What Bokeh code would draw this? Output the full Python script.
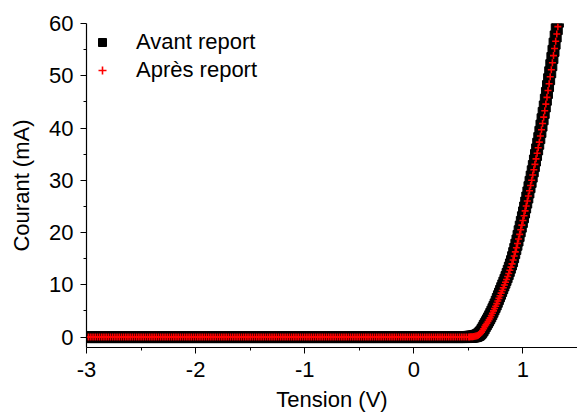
from bokeh.plotting import figure
from bokeh.models import (ColumnDataSource, Legend, LegendItem, Range1d,
                          FixedTicker, CustomJSTickFormatter)
from bokeh.embed import file_html
from bokeh.resources import INLINE

# Tension sweep (V): flat part then rising part
tension_plat = [
    -3.00, -2.98, -2.96, -2.94, -2.92, -2.90, -2.88, -2.86, -2.84, -2.82,
    -2.80, -2.78, -2.76, -2.74, -2.72, -2.70, -2.68, -2.66, -2.64, -2.62,
    -2.60, -2.58, -2.56, -2.54, -2.52, -2.50, -2.48, -2.46, -2.44, -2.42,
    -2.40, -2.38, -2.36, -2.34, -2.32, -2.30, -2.28, -2.26, -2.24, -2.22,
    -2.20, -2.18, -2.16, -2.14, -2.12, -2.10, -2.08, -2.06, -2.04, -2.02,
    -2.00, -1.98, -1.96, -1.94, -1.92, -1.90, -1.88, -1.86, -1.84, -1.82,
    -1.80, -1.78, -1.76, -1.74, -1.72, -1.70, -1.68, -1.66, -1.64, -1.62,
    -1.60, -1.58, -1.56, -1.54, -1.52, -1.50, -1.48, -1.46, -1.44, -1.42,
    -1.40, -1.38, -1.36, -1.34, -1.32, -1.30, -1.28, -1.26, -1.24, -1.22,
    -1.20, -1.18, -1.16, -1.14, -1.12, -1.10, -1.08, -1.06, -1.04, -1.02,
    -1.00, -0.98, -0.96, -0.94, -0.92, -0.90, -0.88, -0.86, -0.84, -0.82,
    -0.80, -0.78, -0.76, -0.74, -0.72, -0.70, -0.68, -0.66, -0.64, -0.62,
    -0.60, -0.58, -0.56, -0.54, -0.52, -0.50, -0.48, -0.46, -0.44, -0.42,
    -0.40, -0.38, -0.36, -0.34, -0.32, -0.30, -0.28, -0.26, -0.24, -0.22,
    -0.20, -0.18, -0.16, -0.14, -0.12, -0.10, -0.08, -0.06, -0.04, -0.02,
    0.00, 0.02, 0.04, 0.06, 0.08, 0.10, 0.12, 0.14, 0.16, 0.18,
    0.20, 0.22, 0.24, 0.26, 0.28, 0.30, 0.32, 0.34, 0.36, 0.38,
    0.40, 0.42, 0.44, 0.46, 0.48,
]
courant_plat = [
    0, 0, 0, 0, 0, 0, 0, 0, 0, 0,
    0, 0, 0, 0, 0, 0, 0, 0, 0, 0,
    0, 0, 0, 0, 0, 0, 0, 0, 0, 0,
    0, 0, 0, 0, 0, 0, 0, 0, 0, 0,
    0, 0, 0, 0, 0, 0, 0, 0, 0, 0,
    0, 0, 0, 0, 0, 0, 0, 0, 0, 0,
    0, 0, 0, 0, 0, 0, 0, 0, 0, 0,
    0, 0, 0, 0, 0, 0, 0, 0, 0, 0,
    0, 0, 0, 0, 0, 0, 0, 0, 0, 0,
    0, 0, 0, 0, 0, 0, 0, 0, 0, 0,
    0, 0, 0, 0, 0, 0, 0, 0, 0, 0,
    0, 0, 0, 0, 0, 0, 0, 0, 0, 0,
    0, 0, 0, 0, 0, 0, 0, 0, 0, 0,
    0, 0, 0, 0, 0, 0, 0, 0, 0, 0,
    0, 0, 0, 0, 0, 0, 0, 0, 0, 0,
    0, 0, 0, 0, 0, 0, 0, 0, 0, 0,
    0, 0, 0, 0, 0, 0, 0, 0, 0, 0,
    0, 0, 0, 0, 0,
]
tension_montee = [
    0.50, 0.51, 0.52, 0.53, 0.54, 0.55, 0.56, 0.57, 0.58, 0.59,
    0.60, 0.61, 0.62, 0.63, 0.64, 0.65, 0.66, 0.67, 0.68, 0.69,
    0.70, 0.71, 0.72, 0.73, 0.74, 0.75, 0.76, 0.77, 0.78, 0.79,
    0.80, 0.81, 0.82, 0.83, 0.84, 0.85, 0.86, 0.87, 0.88, 0.89,
    0.90, 0.91, 0.92, 0.93, 0.94, 0.95, 0.96, 0.97, 0.98, 0.99,
    1.00, 1.01, 1.02, 1.03, 1.04, 1.05, 1.06, 1.07, 1.08, 1.09,
    1.10, 1.11, 1.12, 1.13, 1.14, 1.15, 1.16, 1.17, 1.18, 1.19,
    1.20, 1.21, 1.22, 1.23, 1.24, 1.25, 1.26, 1.27, 1.28, 1.29,
    1.30, 1.31, 1.32, 1.33, 1.34,
]
# Courant (mA) - "Avant report"
avant_montee = [
    0.02, 0.03, 0.05, 0.07, 0.09, 0.12, 0.17, 0.22, 0.30, 0.40,
    0.55, 0.76, 1.02, 1.33, 1.69, 2.10, 2.46, 2.82, 3.19, 3.57,
    3.96, 4.40, 4.85, 5.31, 5.77, 6.24, 6.75, 7.27, 7.79, 8.30,
    8.82, 9.35, 9.88, 10.41, 10.94, 11.47, 12.06, 12.66, 13.27, 13.89,
    14.52, 15.28, 16.06, 16.85, 17.66, 18.47, 19.35, 20.24, 21.13, 22.03,
    22.92, 23.85, 24.79, 25.73, 26.70, 27.67, 28.68, 29.69, 30.70, 31.71,
    32.72, 33.78, 34.84, 35.91, 36.99, 38.07, 39.26, 40.46, 41.67, 42.89,
    44.12, 45.41, 46.71, 48.02, 49.34, 50.67, 52.03, 53.39, 54.76, 56.14,
    57.52, 58.93, 60.34, 61.76, 63.18,
]
# Courant (mA) - "Après report"
apres_montee = [
    0.02, 0.03, 0.04, 0.06, 0.08, 0.11, 0.15, 0.20, 0.27, 0.36,
    0.50, 0.70, 0.95, 1.25, 1.60, 2.00, 2.33, 2.65, 2.98, 3.33,
    3.70, 4.12, 4.55, 5.00, 5.45, 5.90, 6.40, 6.90, 7.40, 7.90,
    8.40, 8.92, 9.44, 9.96, 10.48, 11.00, 11.58, 12.17, 12.77, 13.38,
    14.00, 14.75, 15.52, 16.30, 17.10, 17.90, 18.77, 19.65, 20.53, 21.42,
    22.30, 23.22, 24.15, 25.08, 26.04, 27.00, 28.00, 29.00, 30.00, 31.00,
    32.00, 33.05, 34.10, 35.16, 36.23, 37.30, 38.48, 39.67, 40.87, 42.08,
    43.30, 44.58, 45.87, 47.17, 48.48, 49.80, 51.15, 52.50, 53.86, 55.23,
    56.60, 58.00, 59.40, 60.80, 62.20,
]

x_ticks = [-3, -2, -1, 0, 1]
x_minor = [-2.5, -1.5, -0.5, 0.5, 1.5]
y_ticks = [0, 10, 20, 30, 40, 50, 60]
y_minor = [5, 15, 25, 35, 45, 55]

src = ColumnDataSource(data=dict(
    v=tension_plat + tension_montee,
    avant=courant_plat + avant_montee,
    apres=courant_plat + apres_montee,
))

FONT = "Liberation Sans"

p = figure(frame_width=491, frame_height=324,
           x_range=Range1d(-3, 1.5), y_range=Range1d(-2, 60),
           output_backend="svg", toolbar_location=None,
           min_border_left=86, min_border_top=23, min_border_right=0,
           min_border_bottom=66)
p.outline_line_color = None
p.xgrid.grid_line_color = None
p.ygrid.grid_line_color = None
p.background_fill_color = "white"
p.border_fill_color = "white"

r1 = p.scatter("v", "avant", source=src, marker="square", size=11,
               fill_color="black", line_color="black")
r2 = p.scatter("v", "apres", source=src, marker="cross", size=7,
               line_color="red", line_width=1.6)

fmt = CustomJSTickFormatter(code="return String(tick);")
p.xaxis.ticker = FixedTicker(ticks=x_ticks, minor_ticks=x_minor)
p.yaxis.ticker = FixedTicker(ticks=y_ticks, minor_ticks=y_minor)
p.xaxis.formatter = fmt
p.yaxis.formatter = fmt
p.xaxis.axis_label = "Tension (V)"
p.yaxis.axis_label = "Courant (mA)"
for ax in (p.xaxis[0], p.yaxis[0]):
    ax.axis_line_color = "black"
    ax.axis_line_width = 1.2
    ax.major_tick_line_color = "black"
    ax.minor_tick_line_color = "black"
    ax.major_tick_out = 6
    ax.major_tick_in = 0
    ax.minor_tick_out = 3
    ax.minor_tick_in = 0
    ax.major_label_text_font = FONT
    ax.major_label_text_font_size = "22px"
    ax.major_label_text_color = "black"
    ax.axis_label_text_font = FONT
    ax.axis_label_text_font_size = "22px"
    ax.axis_label_text_font_style = "normal"
    ax.axis_label_text_color = "black"
p.xaxis.major_label_standoff = 8
p.yaxis.major_label_standoff = 7
p.xaxis.axis_label_standoff = 7
p.yaxis.axis_label_standoff = 12

legend = Legend(items=[LegendItem(label="Avant report", renderers=[r1]),
                       LegendItem(label="Après report", renderers=[r2])],
                location="top_left", border_line_color=None,
                background_fill_alpha=0, label_text_font=FONT,
                label_text_font_size="22px", label_text_color="black",
                glyph_width=20, glyph_height=24, label_height=24,
                spacing=2, label_standoff=24, margin=6, padding=14)
p.add_layout(legend)

open("out.html", "w").write(file_html(p, INLINE))
